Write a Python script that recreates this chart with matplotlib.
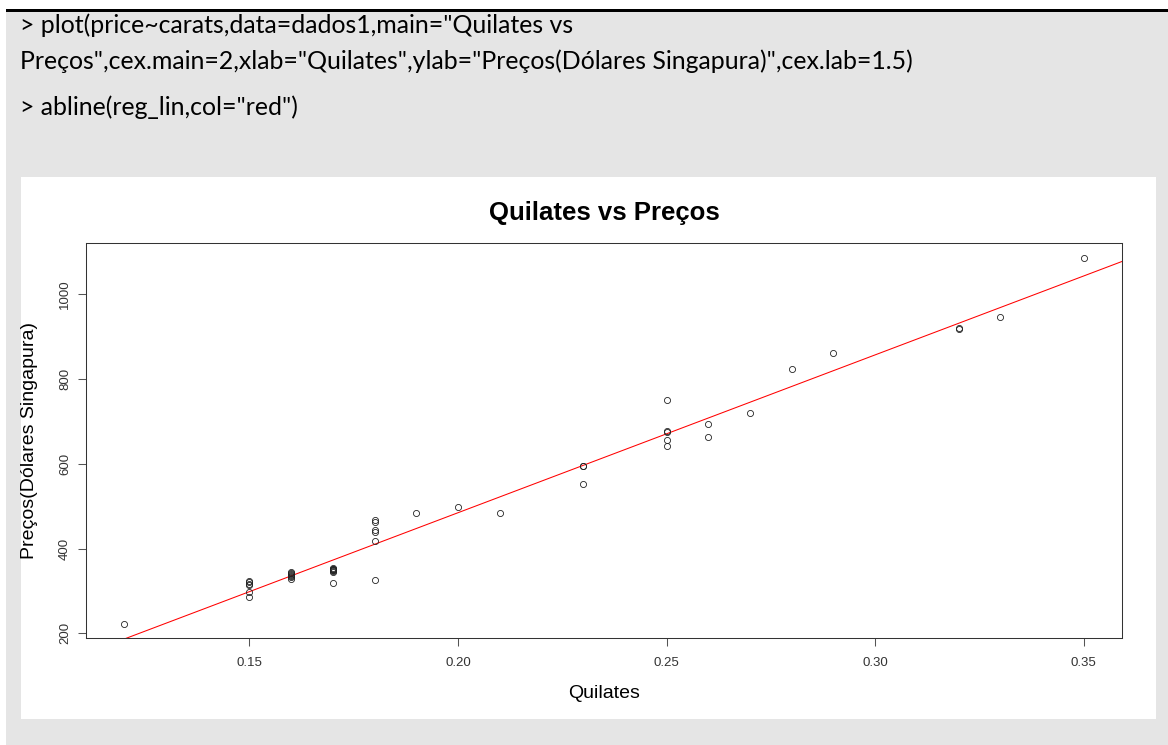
import matplotlib
matplotlib.use('Agg')

import matplotlib.pyplot as plt
from matplotlib.patches import Rectangle
import numpy as np

# diamond rings data (carats vs price, Singapore dollars)
carats = [0.17, 0.16, 0.17, 0.18, 0.25, 0.16, 0.15, 0.19, 0.21, 0.15, 0.18, 0.28,
          0.16, 0.20, 0.23, 0.29, 0.12, 0.26, 0.25, 0.27, 0.18, 0.16, 0.17, 0.16,
          0.17, 0.18, 0.17, 0.18, 0.17, 0.15, 0.17, 0.32, 0.32, 0.15, 0.16, 0.16,
          0.23, 0.23, 0.17, 0.33, 0.25, 0.35, 0.18, 0.25, 0.25, 0.15, 0.26, 0.15]
prices = [355, 328, 350, 325, 642, 342, 322, 485, 483, 323, 462, 823,
          336, 498, 595, 860, 223, 663, 750, 720, 468, 345, 352, 332,
          353, 438, 318, 419, 346, 315, 350, 918, 919, 298, 339, 338,
          595, 553, 345, 945, 655, 1086, 443, 678, 675, 287, 693, 316]

x_ticks = [0.15, 0.20, 0.25, 0.30, 0.35]
y_ticks = [200, 400, 600, 800, 1000]

code_lines = [
    '> plot(price~carats,data=dados1,main="Quilates vs',
    'Preços",cex.main=2,xlab="Quilates",ylab="Preços(Dólares Singapura)",cex.lab=1.5)',
    '> abline(reg_lin,col="red")',
]

W, H = 1168, 745
R_FONT = 'Liberation Sans'


def fx(x):
    return x / W


def fy(y):
    return 1 - y / H


fig = plt.figure(figsize=(W / 100, H / 100), dpi=100)
fig.patch.set_facecolor('white')

# document background: gray block, black rule on top, white plot panel
fig.add_artist(Rectangle((fx(6), 0), 1 - fx(6), fy(12), transform=fig.transFigure,
                         facecolor='#e5e5e5', edgecolor='none', zorder=0))
fig.add_artist(Rectangle((fx(6), fy(12)), 1 - fx(6), 3 / H, transform=fig.transFigure,
                         facecolor='black', edgecolor='none', zorder=0))
fig.add_artist(Rectangle((fx(21), fy(719)), fx(1156) - fx(21), (719 - 177) / H,
                         transform=fig.transFigure, facecolor='white', edgecolor='none', zorder=0))

# R console lines, sized so the long line fills its width
baselines = [33, 69, 115]
texts = []
for line, b in zip(code_lines, baselines):
    t = fig.text(fx(20), fy(b), line, family='Lato', fontsize=12, va='baseline', color='black')
    texts.append(t)
renderer = fig.canvas.get_renderer()
w = texts[1].get_window_extent(renderer).width
fs = 12 * (912 - 20) / w
for t in texts:
    t.set_fontsize(fs)

# the plot itself
ax = fig.add_axes([fx(86), fy(638.3), fx(1122) - fx(86), fy(243) - fy(638.3)])
ax.set_facecolor('white')

ax.plot(carats, prices, 'o', mfc='none', mec='#222222', ms=4.4, mew=0.6, zorder=3)

slope, intercept = np.polyfit(carats, prices, 1)
ax.axline((0, intercept), slope=slope, color='red', lw=0.75, zorder=2)

# R-style 4% axis extension
xr = max(carats) - min(carats)
yr = max(prices) - min(prices)
ax.set_xlim(min(carats) - 0.04 * xr, max(carats) + 0.04 * xr)
ax.set_ylim(min(prices) - 0.04 * yr, max(prices) + 0.04 * yr)

ax.set_xticks(x_ticks)
ax.set_xticklabels(['%.2f' % v for v in x_ticks], family=R_FONT)
ax.set_yticks(y_ticks)
ax.set_yticklabels([str(v) for v in y_ticks], family=R_FONT, rotation=90, va='center')

for s in ax.spines.values():
    s.set_color('#333333')
    s.set_linewidth(0.75)
ax.tick_params(direction='out', length=5.8, width=0.75, color='#555555',
               labelsize=9.5, labelcolor='#333333')
ax.tick_params(axis='x', pad=8)
ax.tick_params(axis='y', pad=5)

fig.text(fx(604), fy(213), 'Quilates vs Preços', family=R_FONT, fontsize=18.5,
         fontweight='bold', ha='center', va='center')
fig.text(fx(604), fy(693), 'Quilates', family=R_FONT, fontsize=14, ha='center', va='center')
fig.text(fx(30), fy(440.5), 'Preços(Dólares Singapura)', family=R_FONT, fontsize=14,
         rotation=90, ha='center', va='center')

fig.savefig('out.png', dpi=100)
